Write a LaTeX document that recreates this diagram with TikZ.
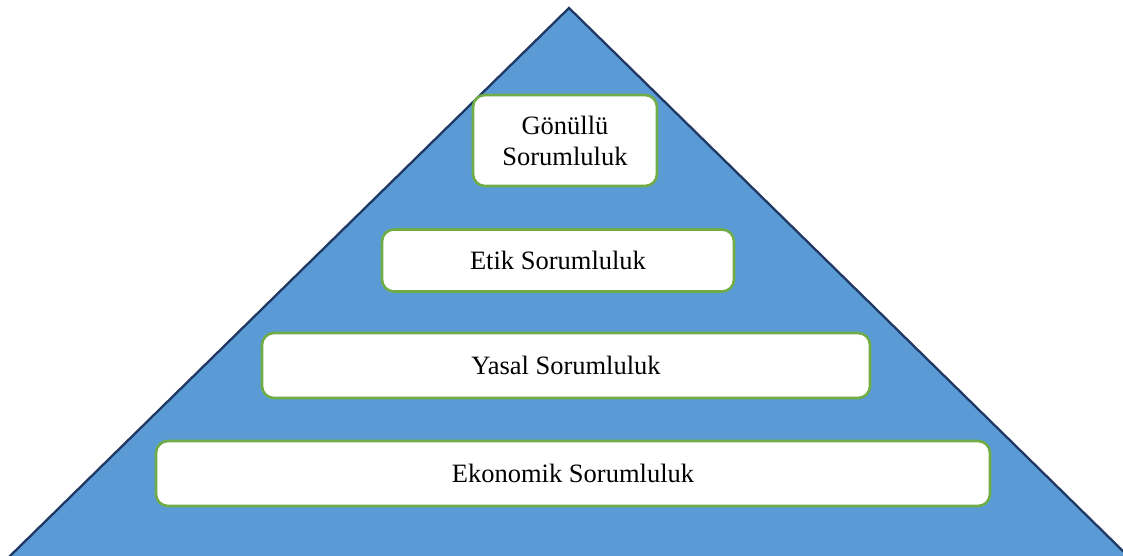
\documentclass[tikz,border=0pt]{standalone}
\usepackage{fontspec}
\setmainfont{Liberation Serif}
\definecolor{pyrfill}{HTML}{5B9BD5}
\definecolor{pyrline}{RGB}{32,56,100}
\definecolor{boxline}{HTML}{70AD47}
\tikzset{
  level/.style={draw=boxline, line width=2.6pt, fill=white, rounded corners=12pt,
    inner sep=0pt, align=center, font=\fontsize{26.5}{31}\selectfont},
}
\begin{document}
\begin{tikzpicture}[x=1pt,y=-1pt]
\useasboundingbox (0,0) rectangle (1123,556);
\begin{scope}
\clip (0,0) rectangle (1123,556);
\fill[white] (0,0) rectangle (1123,556);
\draw[fill=pyrfill, draw=pyrline, line width=2.3pt, line join=miter]
  (569,8) coordinate (apex) -- (8.5,557.5) coordinate (bl) -- (1129.5,557.5) coordinate (br) -- cycle;
\end{scope}
\node[level, minimum width=184pt, minimum height=91pt] (g) at (565,140.5) {Gönüllü\\Sorumluluk};
\node[level, minimum width=352pt, minimum height=62pt] (e) at (558,260.5) {Etik Sorumluluk};
\node[level, minimum width=608pt, minimum height=65pt] (y) at (566,365.5) {Yasal Sorumluluk};
\node[level, minimum width=834pt, minimum height=65pt] (k) at (573,473.5) {Ekonomik Sorumluluk};
\end{tikzpicture}
\end{document}
